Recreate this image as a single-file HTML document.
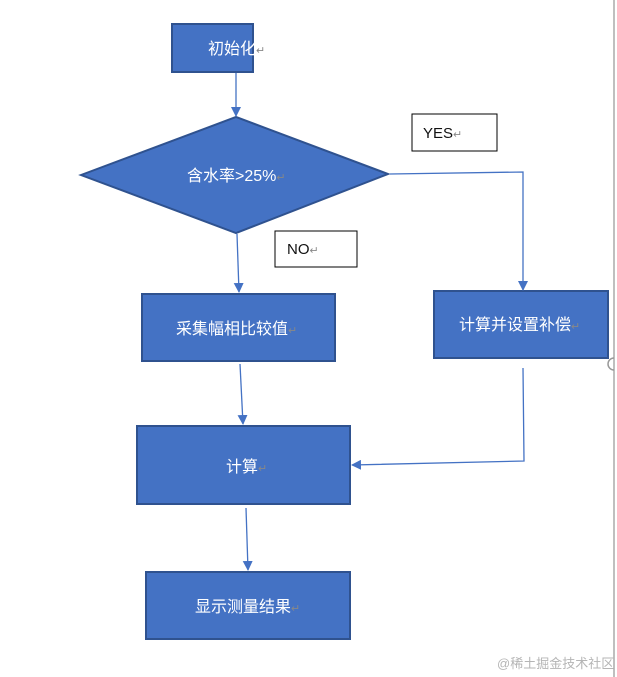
<!DOCTYPE html>
<html><head><meta charset="utf-8"><style>
html,body{margin:0;padding:0;background:#fff;}
svg{display:block;}
text{font-family:"Liberation Sans","Noto Sans CJK SC",sans-serif;}
</style></head><body>
<svg width="617" height="677" viewBox="0 0 617 677" xmlns="http://www.w3.org/2000/svg">
<defs>
<marker id="a" markerWidth="10" markerHeight="10" refX="9" refY="5" orient="auto" markerUnits="userSpaceOnUse">
<path d="M0,0 L10,5 L0,10 z" fill="#4472c4"/></marker>
</defs>
<line x1="614" y1="0" x2="614" y2="677" stroke="#aaa" stroke-width="1.5"/>
<path d="M614,358 a6,6 0 0 0 0,12" fill="none" stroke="#999" stroke-width="1.5"/>
<g fill="#4472c4" stroke="#2f528f" stroke-width="2">
<rect x="172" y="24" width="81" height="48"/>
<polygon points="81,175 236,117 388,174 236,233"/>
<rect x="142" y="294" width="193" height="67"/>
<rect x="434" y="291" width="174" height="67"/>
<rect x="137" y="426" width="213" height="78"/>
<rect x="146" y="572" width="204" height="67"/>
</g>
<g stroke="#4472c4" stroke-width="1.3" fill="none">
<line x1="236" y1="73" x2="236" y2="116" marker-end="url(#a)"/>
<polyline points="390,174 523,172 523,290" marker-end="url(#a)"/>
<line x1="237" y1="234" x2="239" y2="292" marker-end="url(#a)"/>
<line x1="240" y1="364" x2="243" y2="424" marker-end="url(#a)"/>
<polyline points="523,368 524,461 352,465" marker-end="url(#a)"/>
<line x1="246" y1="508" x2="248" y2="570" marker-end="url(#a)"/>
</g>
<rect x="412" y="114" width="85" height="37" fill="#fff" stroke="#000" stroke-width="1"/>
<rect x="275" y="231" width="82" height="36" fill="#fff" stroke="#000" stroke-width="1"/>
<g fill="#fff" font-size="16">
<text x="208" y="54">初始化<tspan fill="#888" font-size="11">↵</tspan></text>
<text x="187" y="181">含水率&gt;25%<tspan fill="#888" font-size="11">↵</tspan></text>
<text x="176" y="334">采集幅相比较值<tspan fill="#888" font-size="11">↵</tspan></text>
<text x="459" y="330">计算并设置补偿<tspan fill="#888" font-size="11">↵</tspan></text>
<text x="226" y="472">计算<tspan fill="#888" font-size="11">↵</tspan></text>
<text x="195" y="612">显示测量结果<tspan fill="#888" font-size="11">↵</tspan></text>
</g>
<g fill="#111" font-size="15">
<text x="423" y="138">YES<tspan fill="#888" font-size="11">↵</tspan></text>
<text x="287" y="254">NO<tspan fill="#888" font-size="11">↵</tspan></text>
</g>
<text x="497" y="668" font-size="13" fill="#b5b5b5">@稀土掘金技术社区</text>
</svg>
</body></html>
